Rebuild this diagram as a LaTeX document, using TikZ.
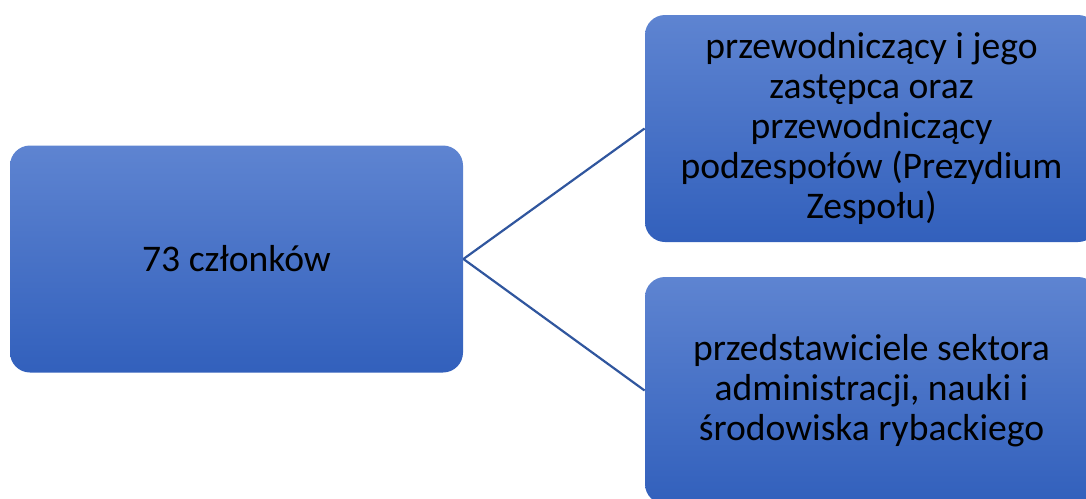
\documentclass[tikz,border=0pt]{standalone}
\usepackage{fontspec}
\setmainfont{Carlito}
\usepackage{tikz}

\definecolor{boxtop}{RGB}{94,132,209}
\definecolor{boxbottom}{RGB}{50,96,188}
\definecolor{linkblue}{RGB}{48,86,158}

\begin{document}
\begin{tikzpicture}[x=0.5pt, y=-0.5pt, every node/.style={rectangle,
        rounded corners=10pt, top color=boxtop, bottom color=boxbottom,
        minimum width=226.5pt, minimum height=113.5pt, inner sep=0pt,
        align=center, font=\fontsize{18.8}{20}\selectfont}]
        \useasboundingbox (0,0) rectangle (1086,498);
        \clip (0,0) rectangle (1086,498);

        \node (members) at (236.5,259) {73 członków};
        \node (presidium) at (871.5,128.5) {przewodniczący i jego\\zastępca oraz\\przewodniczący\\podzespołów (Prezydium\\Zespołu)};
        \node (sectors) at (871.5,390.5) {przedstawiciele sektora\\administracji, nauki i\\środowiska rybackiego};

        \draw[linkblue, line width=1.1pt] (members.east) -- (presidium.west);
        \draw[linkblue, line width=1.1pt] (members.east) -- (sectors.west);
    \end{tikzpicture}
\end{document}
